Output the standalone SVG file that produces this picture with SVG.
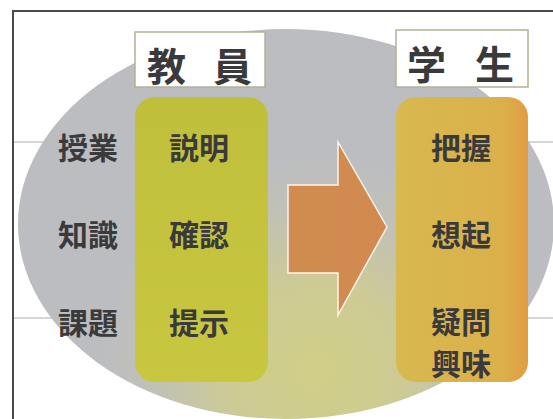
<svg xmlns="http://www.w3.org/2000/svg" width="553" height="419" viewBox="0 0 553 419">
<defs>
<radialGradient id="bgGlow" cx="315" cy="370" r="215" gradientUnits="userSpaceOnUse">
<stop offset="0" stop-color="#d0ce86"/>
<stop offset="0.4" stop-color="#cdcb94"/>
<stop offset="0.75" stop-color="#c1c1b6"/>
<stop offset="1" stop-color="#bcbdc1"/>
</radialGradient>
<linearGradient id="greenG" x1="0" y1="0" x2="0" y2="1">
<stop offset="0" stop-color="#c0bf3c"/>
<stop offset="1" stop-color="#c9c740"/>
</linearGradient>
<linearGradient id="orangeG" x1="0" y1="0" x2="1" y2="0">
<stop offset="0" stop-color="#d7b94f"/>
<stop offset="0.8" stop-color="#dbb04a"/>
<stop offset="1" stop-color="#e09d42"/>
</linearGradient>
<linearGradient id="arrowG" x1="0" y1="0" x2="1" y2="0">
<stop offset="0" stop-color="#cf8c4e"/>
<stop offset="1" stop-color="#d38950"/>
</linearGradient>
</defs>
<style>
.t{font-family:"Noto Sans CJK JP","Noto Sans CJK SC",sans-serif;font-size:30px;fill:#3a3a3c;text-anchor:middle;dominant-baseline:central;font-weight:700}
.h{font-family:"Noto Sans CJK JP","Noto Sans CJK SC",sans-serif;font-size:39px;fill:#3a3a3c;dominant-baseline:central;font-weight:700}
.lab{fill:#ffffff;stroke:#b4b194;stroke-width:1.5}
.rule{stroke:#ababab;stroke-width:1;fill:none}
</style>
<rect x="0" y="0" width="553" height="419" fill="#ffffff"/>
<g id="frame">
<rect x="13" y="11" width="600" height="500" fill="none" stroke="#4a4a4e" stroke-width="2"/>
<line class="rule" x1="14" y1="142" x2="553" y2="142"/>
<line class="rule" x1="14" y1="318" x2="553" y2="318"/>
</g>
<g id="background">
<ellipse cx="286" cy="224" rx="268" ry="195" fill="url(#bgGlow)"/>
</g>
<g id="teacher">
<rect class="lab" x="135" y="32" width="130" height="55"/>
<text class="h" x="147" y="64" textLength="105" lengthAdjust="spacing">教 員</text>
</g>
<g id="teacher-column">
<rect x="135" y="97" width="133" height="285" rx="20" ry="20" fill="url(#greenG)"/>
<text class="t" x="199" y="146">説明</text>
<text class="t" x="199" y="233">確認</text>
<text class="t" x="199" y="321">提示</text>
</g>
<g id="student">
<rect class="lab" x="396" y="30" width="132" height="57"/>
<text class="h" x="407" y="62" textLength="107" lengthAdjust="spacing">学 生</text>
</g>
<g id="student-column">
<rect x="396" y="97" width="132" height="285" rx="20" ry="20" fill="url(#orangeG)"/>
<text class="t" x="461" y="146">把握</text>
<text class="t" x="461" y="233">想起</text>
<text class="t" x="461" y="320">疑問</text>
<text class="t" x="461" y="362">興味</text>
</g>
<g id="row-labels">
<text class="t" x="88" y="146">授業</text>
<text class="t" x="88" y="233">知識</text>
<text class="t" x="88" y="321">課題</text>
</g>
<g id="connectors">
<polygon points="288,185 338,185 338,142 387,227 338,315 338,273 288,273" fill="url(#arrowG)" stroke="#fff4ea" stroke-width="1.5" stroke-linejoin="miter"/>
</g>
</svg>
